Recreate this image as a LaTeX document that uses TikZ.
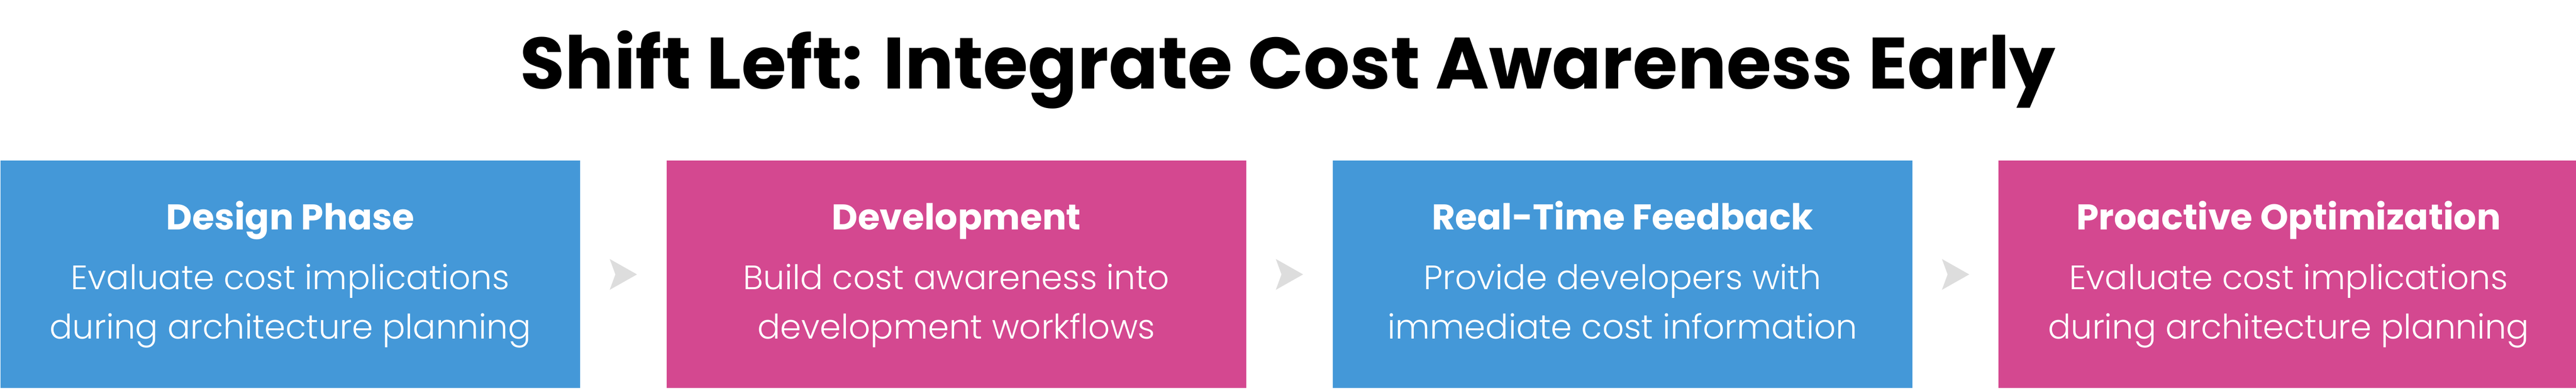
\documentclass[tikz,border=0pt]{standalone}
\usepackage{fontspec}
\setmainfont{Poppins}
\newfontfamily\lightfont{Poppins Light}
\usetikzlibrary{positioning,calc}
\definecolor{phaseblue}{HTML}{4498D8}
\definecolor{phasepink}{HTML}{D44890}
\definecolor{chevgray}{HTML}{DDDDDD}
\begin{document}
\begin{tikzpicture}[line cap=round,line join=round,x=1cm,y=1cm,
	phase/.style={rectangle,inner sep=0pt,minimum width=11.255cm,minimum height=4.42cm,anchor=south west,text=white,align=center},
	phasehead/.style={font=\fontsize{19.8}{24}\selectfont\bfseries},
	phasebody/.style={font=\lightfont\fontsize{18.7}{27.3}\selectfont}]
		\useasboundingbox (0,0) rectangle (50,7.55);
		\node[anchor=base,font=\fontsize{40.2}{48}\selectfont\bfseries] (title) at (25,5.83) {Shift Left: Integrate Cost Awareness Early};
		\node[phase,fill=phaseblue] (design) at (0,0) {};
		\node[phase,fill=phasepink,right=1.66cm of design.south east,anchor=south west] (dev) {};
		\node[phase,fill=phaseblue,right=1.66cm of dev.south east,anchor=south west] (feedback) {};
		\node[phase,fill=phasepink,right=1.66cm of feedback.south east,anchor=south west] (optim) {};
		% texts
		\node[phasehead,text=white,anchor=base] (designhead) at ($(design.south)+(0,3.09)$) {Design Phase};
		\node[phasebody,text=white,align=center,anchor=base] (designbody) at ($(design.south)+(0,0.97)$) {Evaluate cost implications\\during architecture planning};
		\node[phasehead,text=white,anchor=base] (devhead) at ($(dev.south)+(0,3.09)$) {Development};
		\node[phasebody,text=white,align=center,anchor=base] (devbody) at ($(dev.south)+(0,0.97)$) {Build cost awareness into\\development workflows};
		\node[phasehead,text=white,anchor=base] (feedbackhead) at ($(feedback.south)+(0,3.09)$) {Real-Time Feedback};
		\node[phasebody,text=white,align=center,anchor=base] (feedbackbody) at ($(feedback.south)+(0,0.97)$) {Provide developers with\\immediate cost information};
		\node[phasehead,text=white,anchor=base] (optimhead) at ($(optim.south)+(0,3.09)$) {Proactive Optimization};
		\node[phasebody,text=white,align=center,anchor=base] (optimbody) at ($(optim.south)+(0,0.97)$) {Evaluate cost implications\\during architecture planning};
		% chevrons
		\coordinate (c1) at ($(design.east)!0.5!(dev.west)$);
		\coordinate (c2) at ($(dev.east)!0.5!(feedback.west)$);
		\coordinate (c3) at ($(feedback.east)!0.5!(optim.west)$);
		\foreach \c in {c1,c2,c3}
		\fill[chevgray] (\c) ++(-0.265,0.3) -- ++(0.53,-0.3) -- ++(-0.53,-0.3) -- ++(0.11,0.3) -- cycle;
\end{tikzpicture}
\end{document}
